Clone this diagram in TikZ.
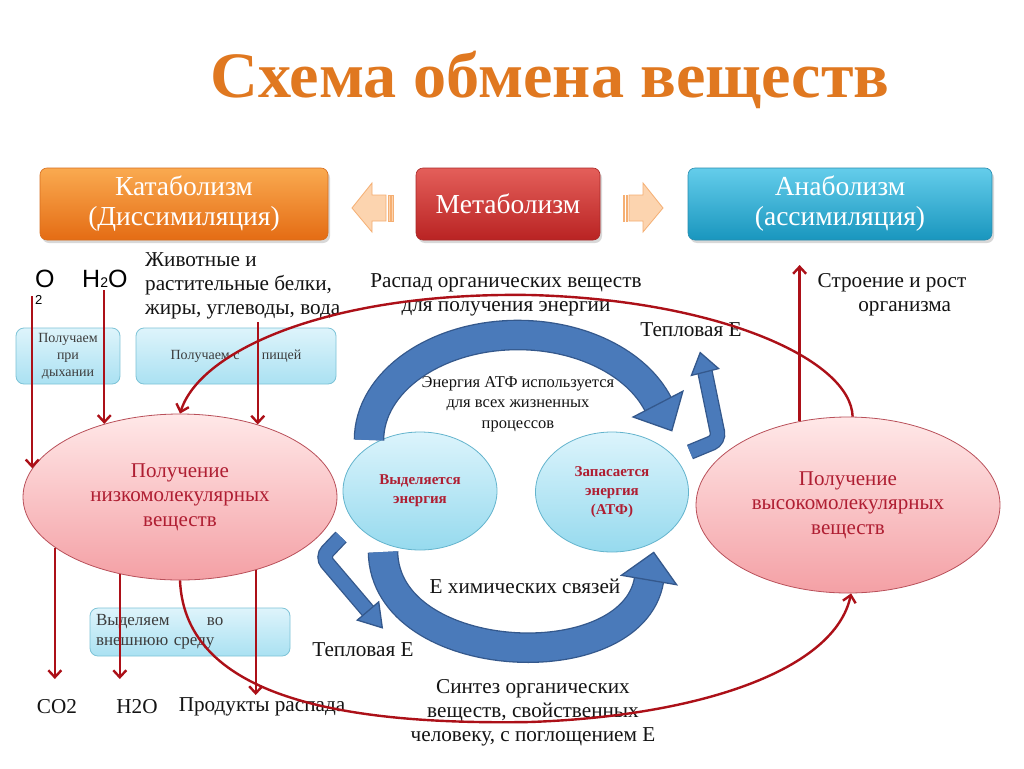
\documentclass[tikz,border=0pt]{standalone}
\usepackage{fontspec}
\setmainfont{Liberation Serif}
\newfontfamily\sansf{Liberation Sans}
\usetikzlibrary{arrows.meta,shapes.geometric,shadows}
\definecolor{catT}{RGB}{250,170,80}
\definecolor{catB}{RGB}{228,108,20}
\definecolor{catD}{RGB}{215,110,30}
\definecolor{metT}{RGB}{228,95,90}
\definecolor{metB}{RGB}{185,35,35}
\definecolor{metD}{RGB}{170,40,40}
\definecolor{anaT}{RGB}{100,205,235}
\definecolor{anaB}{RGB}{25,150,190}
\definecolor{anaD}{RGB}{40,140,175}
\definecolor{peachF}{RGB}{252,212,175}
\definecolor{peachD}{RGB}{245,175,115}
\definecolor{lbT}{RGB}{222,244,251}
\definecolor{lbB}{RGB}{170,225,242}
\definecolor{lbD}{RGB}{125,195,215}
\definecolor{pkT}{RGB}{255,232,232}
\definecolor{pkB}{RGB}{244,160,165}
\definecolor{pkD}{RGB}{185,80,90}
\definecolor{skT}{RGB}{220,244,252}
\definecolor{skB}{RGB}{150,218,238}
\definecolor{skD}{RGB}{100,180,205}
\definecolor{redL}{RGB}{172,16,24}
\definecolor{ellTxt}{RGB}{175,30,50}
\definecolor{bluF}{RGB}{74,122,186}
\definecolor{bluD}{RGB}{52,88,140}
\definecolor{titleC}{RGB}{224,120,32}
\definecolor{txt}{RGB}{20,20,20}
\definecolor{boxTxt}{RGB}{60,60,60}
\tikzset{
  boxbase/.style={rounded corners=7pt, minimum height=72pt, text=white, align=center,
    font=\fontsize{27.5}{30}\selectfont, inner sep=0pt, line width=.6pt,
    drop shadow={shadow xshift=2pt, shadow yshift=-3pt, opacity=.3}},
  catbox/.style={boxbase, minimum width=288pt, top color=catT, bottom color=catB, draw=catD},
  metbox/.style={boxbase, minimum width=184pt, top color=metT, bottom color=metB, draw=metD},
  anabox/.style={boxbase, minimum width=304pt, top color=anaT, bottom color=anaB, draw=anaD},
  peach/.style={fill=peachF, draw=peachD, line width=.8pt},
  lbox/.style={rounded corners=8pt, top color=lbT, bottom color=lbB, draw=lbD, line width=.8pt,
    text=boxTxt, inner sep=0pt, font=\fontsize{14}{17}\selectfont, align=center},
  bigell/.style={ellipse, inner sep=0pt, top color=pkT, bottom color=pkB, draw=pkD, line width=.8pt,
    text=ellTxt, align=center, font=\fontsize{21}{24.5}\selectfont},
  smell/.style={ellipse, inner sep=0pt, top color=skT, bottom color=skB, draw=skD, line width=.8pt,
    text=ellTxt, align=center, font=\fontsize{15}{19}\selectfont\bfseries},
  lab/.style={text=txt, align=center, font=\fontsize{21.2}{24}\selectfont, inner sep=0pt},
  smlab/.style={text=txt, align=center, font=\fontsize{16.5}{20.5}\selectfont, inner sep=0pt},
  redarr/.style={draw=redL, line width=2.4pt, -{Straight Barb[length=7pt,width=13pt]}},
  bluebody/.style={draw=bluD, line width=1.3pt, double=bluF},
  bluehead/.style={fill=bluF, draw=bluD, line width=1.3pt, line join=miter}
}
\begin{document}
\begin{tikzpicture}[x=1pt,y=-1pt]
\useasboundingbox[fill=white] (0,0) rectangle (1024,768);

% title
\node[font=\fontsize{72}{72}\selectfont\bfseries, text=titleC, inner sep=0pt, anchor=base] (title) at (550,97) {\scalebox{0.92}[0.9]{Схема обмена веществ}};

% top boxes
\node[catbox] (kat) at (184,204) {Катаболизм\\(Диссимиляция)};
\node[metbox] (met) at (508,204) {Метаболизм};
\node[anabox] (ana) at (840,204) {Анаболизм\\(ассимиляция)};

% peach block arrows
\path[peach] (352,208) -- (372,183) -- (372,195) -- (386,195) -- (386,221) -- (372,221) -- (372,232) -- cycle;
\path[peach] (388,195) rectangle (390,221);
\path[peach] (391.5,195) rectangle (393,221);
\path[peach] (663,208) -- (643,183) -- (643,195) -- (629,195) -- (629,221) -- (643,221) -- (643,232) -- cycle;
\path[peach] (626,195) rectangle (627.5,221);
\path[peach] (623,195) rectangle (624.5,221);

% labels upper left
\node[font=\sansf\fontsize{25}{25}\selectfont, inner sep=0pt, anchor=base west] (oxy) at (35,287) {O};
\node[font=\sansf\fontsize{13}{13}\selectfont, inner sep=0pt, anchor=base west] (oxy2) at (35,304) {2};
\node[font=\sansf\fontsize{25}{25}\selectfont, inner sep=0pt, anchor=base west] (wat) at (82,287) {H{\fontsize{14}{14}\selectfont 2}O};
\node[lab, align=left, anchor=north west] (food) at (145,252) {Животные и\\растительные белки,\\жиры, углеводы, вода};
\node[lab] (raspad) at (506,295) {Распад органических веществ\\для получения энергии};
\node[lab] (growth) at (892,295) {Строение и рост\\\hspace*{1.2em}организма};
\node[lab] (heat1) at (691,330) {Тепловая Е};
\node[smlab] (atp) at (518,404) {Энергия АТФ используется\\для всех жизненных\\процессов};

% light blue boxes
\node[lbox, minimum width=104pt, minimum height=56pt] (b1) at (68,356) {Получаем\\при\\дыхании};
\node[lbox, minimum width=200pt, minimum height=56pt] (b2) at (236,356) {Получаем с\hspace{1.6em}пищей};
\node[lbox, minimum width=200pt, minimum height=48pt, align=left, text width=188pt, font=\fontsize{17}{20}\selectfont] (b3) at (190,632) {Выделяем\hspace{2.2em}во\\внешнюю среду};

% ellipses
\node[bigell, minimum width=314pt, minimum height=166pt] (L) at (180,497) {Получение\\низкомолекулярных\\веществ};
\node[bigell, minimum width=304pt, minimum height=176pt] (R) at (848,505) {Получение\\высокомолекулярных\\веществ};
\node[smell, minimum width=154pt, minimum height=118pt] (E1) at (420,491) {Выделяется\\энергия};
\node[smell, minimum width=153pt, minimum height=120pt] (E2) at (612,492) {Запасается\\энергия\\(АТФ)};

% bottom labels
\node[lab] (heat2) at (363,650) {Тепловая Е};
\node[lab] (chem) at (525,586) {Е химических связей};
\node[lab] (synth) at (533,713) {Синтез органических\\веществ, свойственных\\человеку, с поглощением Е};
\node[lab] (co2) at (57,707) {CO2};
\node[lab] (h2o) at (137,707) {H2O};
\node[lab] (prod) at (262,707) {Продукты распада};

% blue arrows
\draw[bluebody, double distance=28pt] (369,440) arc[start angle=180, end angle=340, x radius=149, y radius=105];
\path[bluehead] (682.9,391.2) -- (671.8,430.7) -- (633.1,417) -- cycle;
\draw[bluebody, double distance=28pt] (383,552) .. controls (385,668) and (632,680) .. (649,580);
\path[bluehead] (676.6,584.7) -- (653.7,552.4) -- (621.4,575.3) -- cycle;
\draw[bluebody, double distance=13pt, rounded corners=8pt] (690,452) -- (719,440) -- (705,372);
\path[bluehead] (718.6,368.6) -- (700.2,352.6) -- (691.4,375.4) -- cycle;
\draw[bluebody, double distance=13pt, rounded corners=8pt] (341,537) -- (322,557) -- (368,611);
\path[bluehead] (378.7,601.9) -- (382.3,627.8) -- (357.3,620.1) -- cycle;

% red connectors
\coordinate (s1) at (0,296);
\coordinate (s2) at (0,290);
\coordinate (s3) at (0,322);
\coordinate (e1) at (0,679);
\coordinate (e3) at (0,695);
\coordinate (up) at (0,265);
\draw[redarr] (L.169.4 |- s1) -- (L.169.4);
\draw[redarr] (L.136.3 |- s2) -- (L.136.3);
\draw[redarr] (L.43.2 |- s3) -- (L.43.2);
\draw[redarr] (L.202.3) -- (L.202.3 |- e1);
\draw[redarr] (L.232) -- (L.232 |- e1);
\draw[redarr] (L.316.8) -- (L.316.8 |- e3);
\draw[redarr] (R.120.5) -- (R.120.5 |- up);
\draw[redarr] (R.87) .. controls (851,360) and (720,300) .. (530,295) .. controls (330,292) and (200,350) .. (L.90);
\draw[redarr] (L.270) .. controls (185,700) and (350,725) .. (530,722) .. controls (700,716) and (835,670) .. (R.272);
\end{tikzpicture}
\end{document}
